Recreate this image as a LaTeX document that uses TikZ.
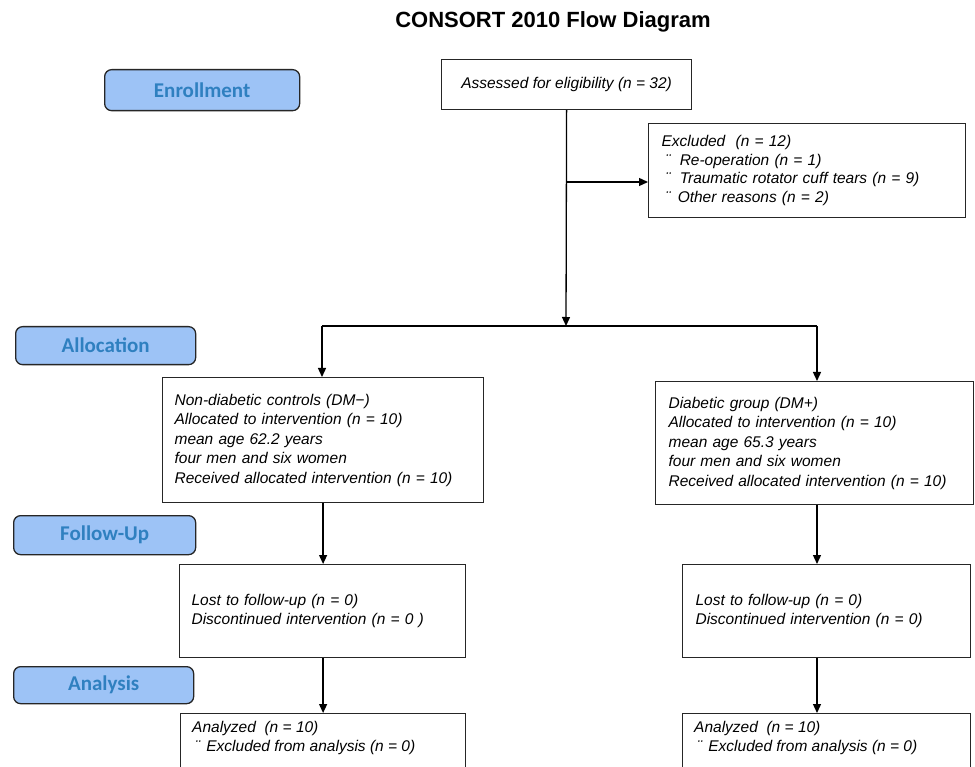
\documentclass[tikz,border=0pt]{standalone}
\usepackage{fontspec}
\setmainfont{Liberation Sans}
\newfontfamily\labfont{Carlito}
\usetikzlibrary{arrows.meta,calc}
\definecolor{labfill}{HTML}{9DC3F6}
\definecolor{labtext}{HTML}{2F80C0}
\begin{document}
\begin{tikzpicture}[x=1pt,y=-1pt,
 lab/.style={draw=black!85, line width=1.3pt, rounded corners=7pt, fill=labfill, text=labtext,
   font=\labfont\bfseries\fontsize{21}{24}\selectfont, anchor=north west, inner sep=0pt},
 box/.style={draw=black!85, line width=1.2pt, anchor=north west, inner sep=0pt, align=left,
   font=\itshape\fontsize{15.5}{19.5}\selectfont},
 txt/.style={inner sep=0pt, align=left, anchor=north west, font=\itshape\fontsize{15.5}{19}\selectfont},
 arr/.style={line width=1.3pt, -{Triangle[length=9pt,width=8pt]}},
 ln/.style={line width=1.3pt}]
\useasboundingbox (0,0) rectangle (975,767);
\clip (0,0) rectangle (975,767);
\fill[white] (0,0) rectangle (975,767);

\node[font=\bfseries\fontsize{22}{26}\selectfont] (title) at (553,22) {CONSORT 2010 Flow Diagram};

% phase labels
\node[lab, minimum width=195pt, minimum height=41pt] (enr) at (104,69) {Enrollment};
\node[lab, minimum width=180pt, minimum height=38pt] (alc) at (15,326) {Allocation};
\node[lab, minimum width=182pt, minimum height=39pt] (fol) at (13,515) {Follow-Up};
\node[lab, minimum width=180pt, minimum height=37pt] (ana) at (13,666) {Analysis};

% boxes
\node[box, minimum width=250pt, minimum height=50pt, align=center] (ass) at (441,59)
  {Assessed for eligibility (n = 32)};
\node[box, minimum width=317pt, minimum height=94pt, text width=291pt,
      font=\itshape\fontsize{15.5}{18.5}\selectfont] (exc) at (648,123)
  {Excluded\ \ (n = 12)\\
   \hspace*{4pt}¨\hspace{9pt}Re-operation (n = 1)\\
   \hspace*{4pt}¨\hspace{9pt}Traumatic rotator cuff tears (n = 9)\\
   \hspace*{4pt}¨\hspace{7pt}Other reasons (n = 2)};
\node[box, minimum width=321pt, minimum height=125pt, text width=297pt] (al1) at (162,377)
  {Non-diabetic controls (DM−)\\
   Allocated to intervention (n = 10)\\
   mean age 62.2 years\\
   four men and six women\\
   Received allocated intervention (n = 10)};
\node[box, minimum width=318pt, minimum height=123pt, text width=292pt] (al2) at (655,381)
  {Diabetic group (DM+)\\
   Allocated to intervention (n = 10)\\
   mean age 65.3 years\\
   four men and six women\\
   Received allocated intervention (n = 10)};
\node[box, minimum width=286pt, minimum height=93pt, text width=262pt] (fu1) at (179,564)
  {Lost to follow-up (n = 0)\\
   Discontinued intervention (n = 0 )};
\node[box, minimum width=288pt, minimum height=93pt, text width=262pt] (fu2) at (682,564)
  {Lost to follow-up (n = 0)\\
   Discontinued intervention (n = 0)};
\node[box, minimum width=285pt, minimum height=90pt] (an1) at (180,713) {};
\node[box, minimum width=288pt, minimum height=90pt] (an2) at (682,713) {};
\node[txt] (an1t) at (192,721)
  {Analyzed\ \ (n = 10)\\
   \hspace*{3pt}¨\hspace{6pt}Excluded from analysis (n = 0)};
\node[txt] (an2t) at (694,721)
  {Analyzed\ \ (n = 10)\\
   \hspace*{3pt}¨\hspace{6pt}Excluded from analysis (n = 0)};

% connectors
\coordinate (j) at (566,326);
\coordinate (br) at (566,182);
\coordinate (jl) at (322,326);
\coordinate (jr) at (817,326);
\coordinate (rc) at (817,0);
\draw[arr] (ass.south) -- (j);
\draw[arr] (br) -- (br -| exc.west);
\draw[ln] (jl) -- (jr);
\draw[arr] (jl) -- (jl |- al1.north);
\draw[arr] (jr) -- (jr |- al2.north);
\draw[arr] (al1.south) -- (al1.south |- fu1.north);
\draw[arr] (rc |- al2.south) -- (rc |- fu2.north);
\draw[arr] (al1.south |- fu1.south) -- (al1.south |- an1.north);
\draw[arr] (rc |- fu2.south) -- (rc |- an2.north);
\end{tikzpicture}
\end{document}
